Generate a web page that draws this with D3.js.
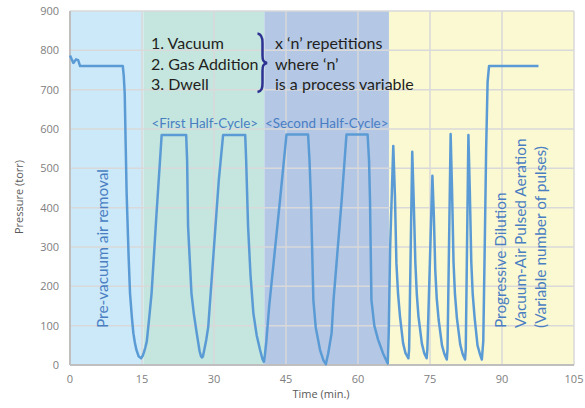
<!DOCTYPE html>
<html>
<head>
<meta charset="utf-8">
<script src="https://cdn.jsdelivr.net/npm/d3@7"></script>
<style>
  body { margin: 0; background: #fff; }
  .tick-label { font-family: "Open Sans", sans-serif; font-size: 11px; fill: #808080; }
  .axis-title { font-family: "Open Sans", sans-serif; font-size: 11px; fill: #595959; }
  .note { font-family: Lato, sans-serif; font-size: 16px; fill: #231f20; }
  .phase { font-family: Lato, sans-serif; fill: #4a7ec2; }
</style>
</head>
<body>
<div id="chart"></div>
<script>
// time (min.) and pressure (torr)
var timeVals = [0, 0.7, 1.25, 1.7, 2.1, 11.0, 11.2, 11.4, 11.6, 11.8, 12.2, 12.5, 12.9, 13.2, 13.5, 13.8, 14.3, 14.8,
    15.1, 15.4, 15.7, 16.0, 16.5, 17.0, 18.0, 19.1, 24.2, 24.4, 24.6, 25.3, 25.8, 26.4, 27.0, 27.3, 27.5,
    27.7, 28.0, 28.4, 28.8, 30.0, 31.0, 31.9, 36.5, 36.7, 37.1, 37.6, 38.2, 38.9, 39.6, 40.1, 40.4,
    40.6, 40.9, 41.5, 43.75, 45.1, 49.6, 49.9, 50.2, 50.7, 51.2, 52.1, 52.8, 53.3,
    53.8, 54.5, 54.9, 56.6, 57.6, 62.0, 62.3, 62.5, 62.8, 63.4, 64.2, 65.2, 66.2,
    66.4, 66.7, 67.35, 67.7, 68.0, 68.35, 68.75, 69.4, 69.9, 70.5,
    70.65, 71.3, 71.6, 71.95, 72.25, 72.6, 73.3, 73.8, 74.3,
    74.45, 75.5, 75.8, 76.1, 76.4, 76.8, 77.5, 78.0, 78.5,
    78.65, 79.3, 79.6, 79.9, 80.2, 80.6, 81.3, 81.8, 82.3,
    82.45, 83.0, 83.3, 83.6, 83.9, 84.3, 84.9, 85.4, 85.8,
    86.1, 86.4, 86.7, 87.0, 87.3, 97.6];
var pressureVals = [787, 768, 777, 775, 760, 760, 735, 690, 560, 436, 280, 183, 120, 81, 58, 40, 22, 17,
    22, 32, 45, 60, 120, 183, 380, 585, 585, 520, 352, 183, 130, 81, 35, 22, 19,
    22, 40, 65, 97, 300, 470, 585, 585, 520, 352, 230, 132, 75, 38, 15, 8,
    25, 60, 150, 419, 586, 586, 520, 419, 165, 95, 38, 12, 2,
    30, 81, 165, 419, 586, 586, 520, 419, 165, 100, 64, 30, 4,
    80, 300, 557, 428, 259, 180, 123, 55, 30, 17,
    40, 542, 420, 259, 180, 123, 55, 30, 17,
    40, 481, 380, 240, 170, 115, 50, 28, 14,
    40, 587, 440, 262, 180, 120, 52, 28, 14,
    40, 585, 440, 262, 180, 120, 50, 28, 14,
    60, 300, 550, 720, 760, 760];

// shaded process phases
var phaseNames = ["pre", "first", "second", "dilution"];
var phaseStart = [0, 15.3, 40.5, 66.45];
var phaseEnd = [15.3, 40.5, 66.45, 105];
var phaseColors = ["#cbe9f9", "#c4e6df", "#b4c8e5", "#fbf9d1"];

var xTicks = [0, 15, 30, 45, 60, 75, 90, 105];
var yTicks = [0, 100, 200, 300, 400, 500, 600, 700, 800, 900];

var steps = ["1. Vacuum", "2. Gas Addition", "3. Dwell"];
var repeatNote = ["x \u2018n\u2019 repetitions", "where \u2018n\u2019", "is a process variable"];
var dilutionNote = ["Progressive Dilution", "Vacuum-Air Pulsed Aeration", "(Variable number of pulses)"];

var width = 585, height = 408;

var svg = d3.select("#chart").append("svg")
    .attr("width", width)
    .attr("height", height);

var x = d3.scaleLinear().domain([0, 105]).range([70, 574]);
var y = d3.scaleLinear().domain([0, 900]).range([365, 11]);

// background bands
svg.selectAll("rect.band")
    .data(phaseNames)
    .enter()
    .append("rect")
    .attr("class", "band")
    .attr("x", function(d, i) { return x(phaseStart[i]); })
    .attr("y", y(900))
    .attr("width", function(d, i) { return x(phaseEnd[i]) - x(phaseStart[i]); })
    .attr("height", y(0) - y(900))
    .style("fill", function(d, i) { return phaseColors[i]; });

// gridlines
svg.selectAll("line.hgrid")
    .data(yTicks)
    .enter()
    .append("line")
    .attr("x1", x(0)).attr("x2", x(105))
    .attr("y1", function(d) { return y(d); })
    .attr("y2", function(d) { return y(d); })
    .style("stroke", "#d9d9d9")
    .style("stroke-width", 1.5);

svg.selectAll("line.vgrid")
    .data(xTicks)
    .enter()
    .append("line")
    .attr("y1", y(0)).attr("y2", y(900))
    .attr("x1", function(d) { return x(d); })
    .attr("x2", function(d) { return x(d); })
    .style("stroke", "#d9d9d9")
    .style("stroke-width", 1.5);

// axes lines
svg.append("line")
    .attr("x1", x(0)).attr("x2", x(0)).attr("y1", y(0)).attr("y2", y(900))
    .style("stroke", "#bfbfbf").style("stroke-width", 2);
svg.append("line")
    .attr("x1", x(0)).attr("x2", x(105)).attr("y1", y(0)).attr("y2", y(0))
    .style("stroke", "#bfbfbf").style("stroke-width", 2);

// tick labels
svg.selectAll("text.ylab")
    .data(yTicks)
    .enter()
    .append("text")
    .attr("class", "tick-label")
    .attr("x", 59)
    .attr("y", function(d) { return y(d) + 4; })
    .attr("text-anchor", "end")
    .text(function(d) { return d; });

svg.selectAll("text.xlab")
    .data(xTicks)
    .enter()
    .append("text")
    .attr("class", "tick-label")
    .attr("x", function(d) { return x(d); })
    .attr("y", 383)
    .attr("text-anchor", "middle")
    .text(function(d) { return d; });

svg.append("text")
    .attr("class", "axis-title")
    .attr("text-anchor", "middle")
    .attr("transform", "translate(23,197) rotate(-90)")
    .text("Pressure (torr)");

svg.append("text")
    .attr("class", "axis-title")
    .attr("text-anchor", "middle")
    .attr("x", 321)
    .attr("y", 398)
    .text("Time (min.)");

// pressure trace
var trace = timeVals.map(function(t, i) { return [t, pressureVals[i]]; });

var line = d3.line()
    .x(function(d) { return x(d[0]); })
    .y(function(d) { return y(d[1]); });

svg.append("path")
    .datum(trace)
    .attr("d", line)
    .style("fill", "none")
    .style("stroke", "#5b9bd5")
    .style("stroke-width", 2.5)
    .style("stroke-linejoin", "round");

// annotations
svg.selectAll("text.step")
    .data(steps)
    .enter()
    .append("text")
    .attr("class", "note")
    .attr("x", 151)
    .attr("y", function(d, i) { return 49 + i * 20.5; })
    .text(function(d) { return d; });

svg.selectAll("text.repeat")
    .data(repeatNote)
    .enter()
    .append("text")
    .attr("class", "note")
    .attr("x", 275)
    .attr("y", function(d, i) { return 49 + i * 20.5; })
    .text(function(d) { return d; });

svg.append("path")
    .attr("d", "M257.5,33.5 C262,34 262.5,38 262.5,43 L262.5,55 C262.5,60 263,62 267,63 C263,64 262.5,66 262.5,71 L262.5,83 C262.5,88 262,91 257.5,92")
    .style("fill", "none")
    .style("stroke", "#2e3192")
    .style("stroke-width", 2.5);

svg.append("text")
    .attr("class", "phase")
    .style("font-size", "13.4px")
    .attr("x", 151.5)
    .attr("y", 128)
    .text("<First Half-Cycle>");

svg.append("text")
    .attr("class", "phase")
    .style("font-size", "13.4px")
    .attr("x", 265)
    .attr("y", 128)
    .text("<Second Half-Cycle>");

svg.append("text")
    .attr("class", "phase")
    .style("font-size", "15.4px")
    .attr("transform", "translate(108,328) rotate(-90)")
    .text("Pre-vacuum air removal");

svg.selectAll("text.dilution")
    .data(dilutionNote)
    .enter()
    .append("text")
    .attr("class", "phase")
    .style("font-size", "15.4px")
    .attr("transform", function(d, i) { return "translate(" + (506 + i * 20) + ",328) rotate(-90)"; })
    .text(function(d) { return d; });
</script>
</body>
</html>
